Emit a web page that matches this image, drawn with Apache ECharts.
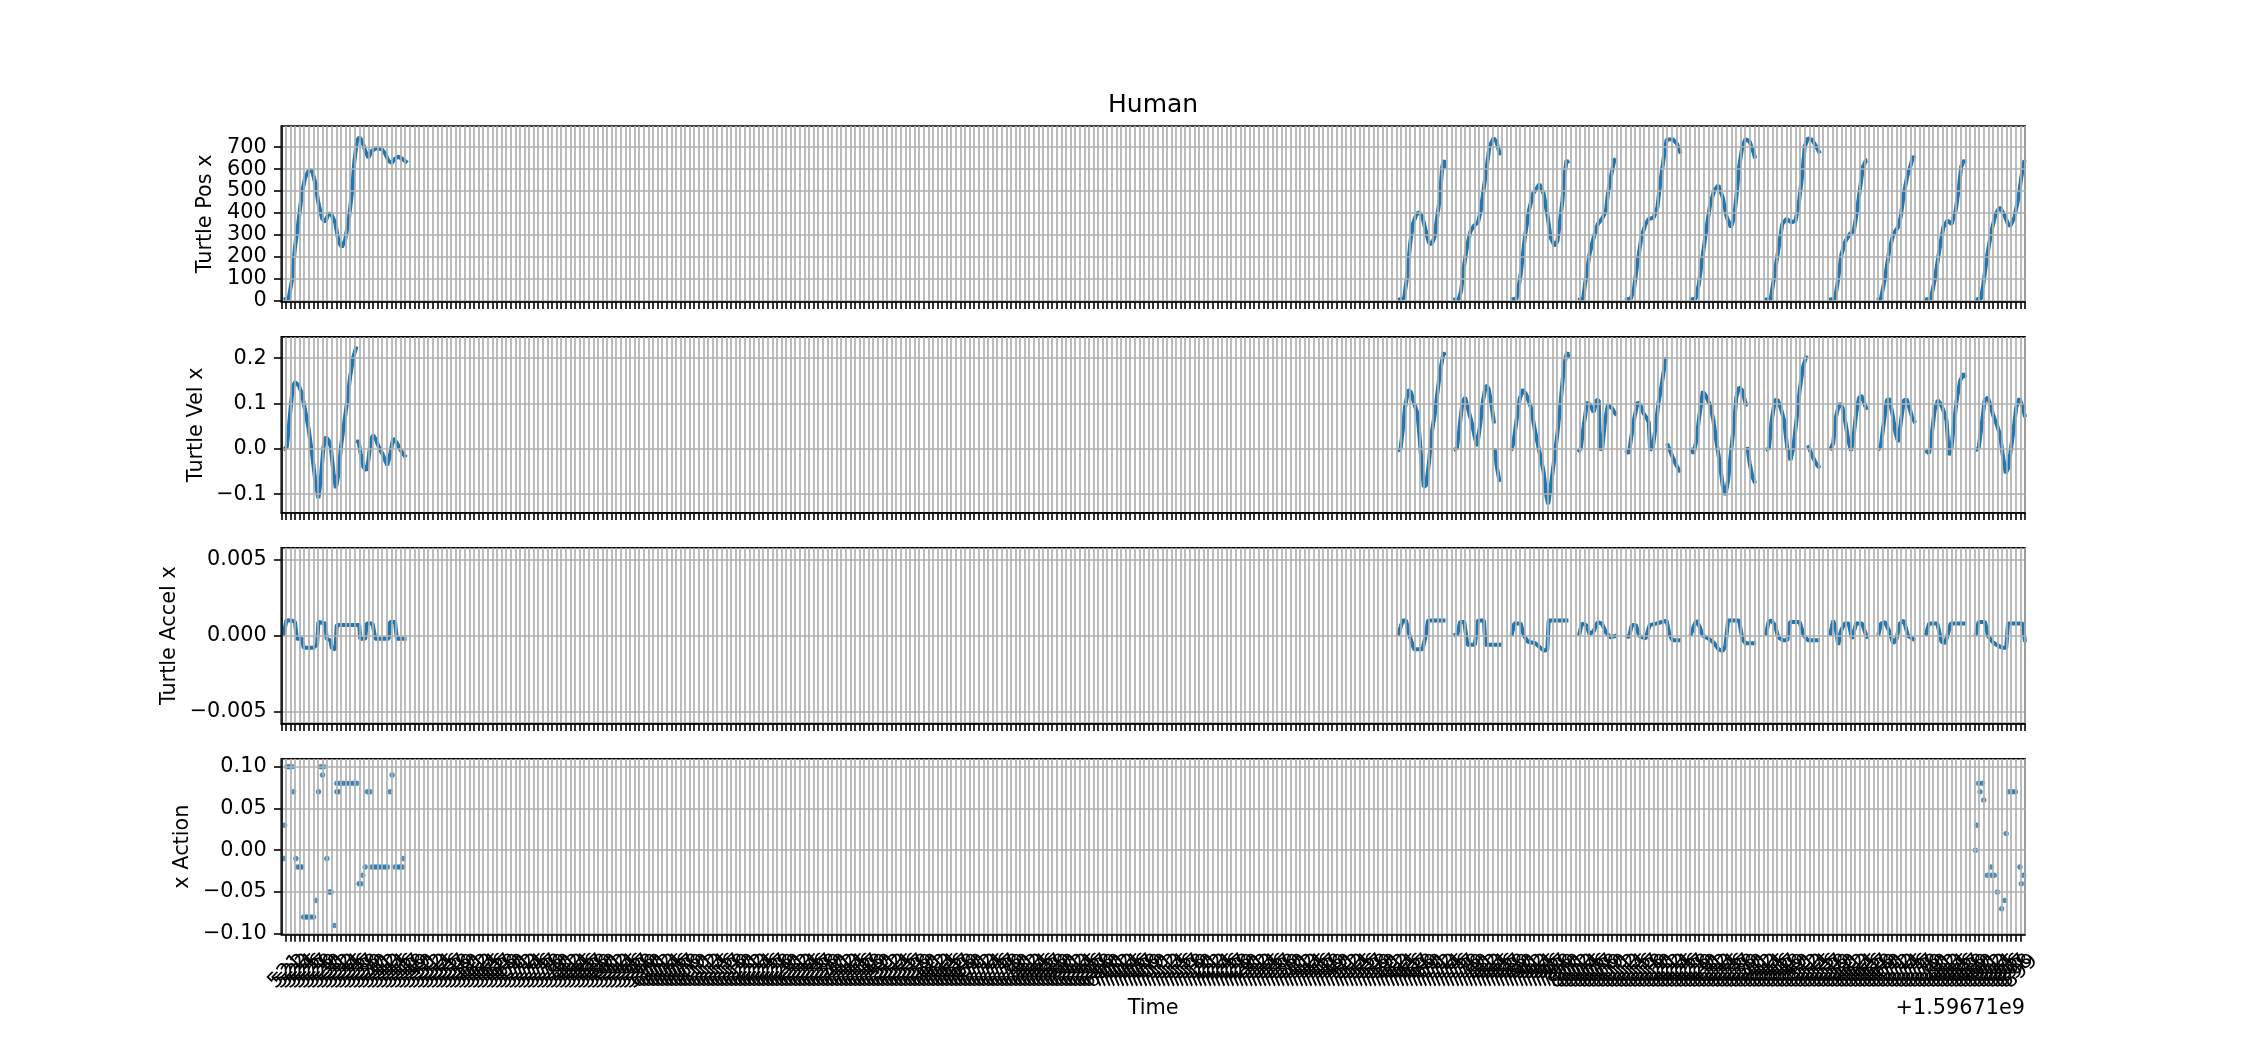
<!DOCTYPE html>
<html><head><meta charset="utf-8">
<script src="https://cdn.jsdelivr.net/npm/echarts@6/dist/echarts.min.js"></script>
<style>html,body{margin:0;padding:0;background:#fff}#c{width:2250px;height:1050px}</style>
</head><body><div id="c"></div>
<script>
// ---- axis / tick data ----
const T_START = 520;          // label of first x tick (time - 1.59671e9)
const X_SPAN = 380;           // number of tick steps on the time axis
const X_OFFSET_TEXT = '+1.59671e9';
const posTicks = [0, 100, 200, 300, 400, 500, 600, 700];
const velTicks = [-0.1, 0, 0.1, 0.2];
const accTicks = [-0.005, 0, 0.005];
const actTicks = [-0.10, -0.05, 0, 0.05, 0.10];
const panelNames = ['Turtle Pos x', 'Turtle Vel x', 'Turtle Accel x', 'x Action'];

// ---- series data: [time since T_START, value]; null = gap ----
const posPts = [
[0.5,5],[1.6,9],[2.3,89],[3.0,244],[3.8,367],[4.5,491],[5.2,560],[5.9,591],[6.7,595],[7.4,537],[8.1,444],[8.9,375],[9.6,359],[10.3,398],[11.0,390],[11.8,352],[12.5,267],[13.2,244],[13.9,275],[14.7,367],[15.4,491],[15.9,629],[16.5,730],[17.0,745],[17.6,730],[18.3,683],[19.0,652],[19.7,683],[20.8,696],[21.9,691],[22.6,673],[23.4,637],[24.1,629],[24.8,648],[25.5,657],[26.3,648],[27.0,637],[27.5,629],null,
[243.3,3],[244.7,11],[245.4,118],[246.0,257],[246.6,349],[247.4,395],[248.0,403],[248.7,380],[249.4,318],[250.1,265],[250.7,257],[251.3,288],[251.9,380],[252.5,472],[253.0,611],[253.4,641],[253.6,600],null,
[255.4,3],[256.6,6],[257.1,42],[257.8,165],[258.5,257],[259.2,318],[259.9,341],[260.8,357],[261.4,411],[261.9,488],[262.6,595],[263.3,703],[264.2,741],[264.8,726],[265.5,672],[265.7,664],null,
[267.8,3],[269.2,8],[270.1,118],[271.0,288],[271.9,411],[272.8,488],[274.2,531],[275.1,488],[276.0,380],[276.6,288],[277.5,249],[278.1,272],[278.5,334],[279.2,457],[279.6,564],[280.1,641],[280.5,626],null,
[282.6,3],[283.7,8],[284.1,72],[285.1,211],[286.0,288],[286.9,349],[287.8,372],[288.7,411],[289.1,488],[289.9,580],[290.5,641],[290.8,649],null,
[292.8,3],[294.1,8],[294.8,57],[295.5,165],[296.4,288],[297.3,349],[298.0,372],[299.1,380],[299.9,426],[300.5,534],[301.2,641],[301.9,734],[302.3,741],[303.2,737],[304.1,718],[304.8,680],[305.0,672],null,
[306.9,3],[308.2,8],[308.9,72],[309.6,180],[310.5,318],[311.4,441],[312.3,503],[313.2,526],[314.1,472],[315.0,380],[315.9,334],[316.6,380],[317.1,472],[317.7,611],[318.4,703],[319.1,737],[320.0,726],[320.9,672],[321.2,649],null,
[323.2,3],[324.6,8],[325.3,103],[326.2,226],[327.1,349],[328.0,372],[329.1,357],[330.0,365],[330.7,441],[331.4,564],[332.0,703],[332.7,741],[333.6,734],[334.5,703],[335.3,672],null,
[337.3,3],[338.6,8],[339.1,72],[340.0,211],[340.9,272],[341.8,303],[342.7,318],[343.4,411],[344.1,518],[344.7,611],[345.4,641],[345.6,641],null,
[347.7,3],[348.6,8],[349.5,103],[350.4,226],[351.3,303],[352.3,334],[352.9,380],[353.6,488],[354.3,564],[355.0,611],[355.6,657],[356.1,649],null,
[358.1,3],[359.5,8],[360.4,103],[361.3,226],[362.2,334],[363.1,365],[364.0,349],[364.9,411],[365.6,518],[366.1,611],[366.8,641],[367.0,626],null,
[369.0,3],[370.4,8],[370.9,72],[371.8,211],[372.7,318],[373.6,395],[374.5,426],[375.4,395],[376.3,349],[376.8,341],[377.7,380],[378.6,472],[379.2,564],[379.9,641]
];

const velPts = [
[0.5,-0.003],[1.2,0.004],[1.6,0.041],[2.0,0.085],[2.5,0.136],[3.0,0.147],[3.8,0.140],[4.5,0.122],[5.2,0.085],[5.9,0.048],[6.7,-0.010],[7.4,-0.069],[8.1,-0.109],[8.6,-0.069],[9.2,0.004],[9.7,0.026],[10.3,0.019],[10.8,0.004],[11.4,-0.054],[11.9,-0.087],[12.5,-0.054],[13.0,0.004],[13.6,0.048],[14.3,0.100],[15.0,0.158],[15.7,0.202],[16.4,0.226],null,
[16.5,0.012],[16.8,0.019],[17.3,-0.010],[17.9,-0.040],[18.5,-0.048],[19.0,-0.025],[19.5,0.019],[20.0,0.030],[20.6,0.021],[21.3,0.003],[22.1,-0.012],[22.6,-0.025],[23.1,-0.036],[23.7,-0.014],[24.4,0.023],[25.2,0.013],[25.9,-0.001],[26.6,-0.012],[27.2,-0.019],null,
[243.3,-0.004],[243.9,-0.001],[244.4,0.041],[244.9,0.092],[245.6,0.130],[246.2,0.125],[246.8,0.103],[247.6,0.078],[248.0,0.034],[248.5,-0.032],[249.0,-0.084],[249.5,-0.080],[250.1,-0.032],[250.7,0.034],[251.4,0.078],[252.1,0.136],[252.7,0.180],[253.3,0.213],[253.5,0.206],null,
[255.5,-0.003],[256.2,0.001],[256.7,0.041],[257.4,0.103],[258.0,0.113],[258.6,0.089],[259.4,0.059],[260.1,0.026],[260.6,0.006],[261.2,0.048],[261.9,0.107],[262.5,0.140],[263.1,0.133],[263.7,0.100],[264.3,0.056],null,
[264.4,0.001],[264.9,-0.040],[265.5,-0.073],null,
[268.0,-0.004],[268.5,0.012],[269.2,0.063],[269.9,0.111],[270.6,0.131],[271.4,0.118],[272.3,0.092],[273.2,0.041],[274.2,-0.007],[275.1,-0.051],[275.7,-0.105],[276.1,-0.122],[276.6,-0.087],[277.3,-0.032],[278.1,0.034],[278.7,0.092],[279.3,0.158],[279.9,0.202],[280.3,0.213],[280.5,0.199],null,
[282.6,-0.007],[283.2,0.001],[283.9,0.056],[284.6,0.103],[285.3,0.096],[286.0,0.081],[286.6,0.107],[287.1,0.107],[287.4,-0.003],[287.9,0.004],[288.5,0.063],[289.1,0.096],[289.9,0.091],[290.5,0.081],[291.0,0.074],null,
[293.0,-0.003],[293.7,-0.010],[294.2,0.026],[294.9,0.070],[295.6,0.103],[296.2,0.096],[296.9,0.078],[297.6,0.067],[298.0,0.059],[298.3,-0.003],[298.9,0.004],[299.5,0.048],[300.1,0.100],[300.8,0.140],[301.4,0.180],[301.9,0.202],null,
[302.0,0.012],[302.6,-0.003],[303.2,-0.018],[303.8,-0.032],[304.6,-0.047],[304.9,-0.051],null,
[307.1,0.001],[307.8,-0.010],[308.4,0.019],[309.0,0.070],[309.8,0.127],[310.5,0.116],[311.4,0.096],[312.1,0.063],[312.7,0.019],[313.5,-0.032],[314.1,-0.080],[314.7,-0.102],[315.3,-0.069],[315.9,-0.010],[316.6,0.056],[317.1,0.114],[317.7,0.136],[318.4,0.129],[319.1,0.100],[319.6,0.096],null,
[319.5,0.004],[320.0,-0.032],[320.6,-0.062],[321.2,-0.076],null,
[323.5,-0.003],[324.2,0.001],[324.8,0.063],[325.5,0.107],[326.1,0.108],[326.8,0.089],[327.5,0.063],[328.2,0.001],[328.9,-0.025],[329.5,0.001],[330.2,0.063],[330.9,0.129],[331.6,0.180],[332.4,0.206],null,
[332.7,0.008],[333.4,-0.010],[334.1,-0.025],[334.7,-0.036],[335.3,-0.043],null,
[337.5,-0.003],[338.2,0.012],[338.8,0.070],[339.5,0.100],[340.2,0.092],[340.9,0.056],[341.5,0.019],[342.1,-0.004],[342.6,0.023],[343.2,0.078],[343.8,0.111],[344.3,0.118],[345.0,0.100],[345.5,0.086],null,
[348.0,-0.003],[348.6,0.008],[349.3,0.063],[349.9,0.107],[350.4,0.111],[351.1,0.078],[351.8,0.034],[352.4,0.015],[353.0,0.063],[353.6,0.107],[354.2,0.109],[354.8,0.091],[355.4,0.070],[356.1,0.057],null,
[358.3,-0.003],[359.1,-0.010],[359.7,0.034],[360.3,0.085],[361.0,0.107],[361.6,0.100],[362.2,0.085],[362.9,0.063],[363.4,-0.014],[364.0,0.004],[364.6,0.063],[365.2,0.114],[365.9,0.151],[366.6,0.166],[367.0,0.157],null,
[369.2,-0.003],[369.9,0.001],[370.6,0.056],[371.2,0.107],[371.9,0.113],[372.5,0.094],[373.2,0.070],[373.9,0.052],[374.6,0.030],[375.1,-0.010],[375.8,-0.054],[376.3,-0.043],[376.8,-0.010],[377.5,0.041],[378.1,0.092],[378.8,0.111],[379.5,0.092],[380.0,0.070]
];

const accPts = [
[0.5,0],[0.7,0],[1.1,0.0010],[2.3,0.0010],[3.0,0.0009],[3.4,-0.0002],[4.5,-0.0002],[4.9,-0.0008],[7.0,-0.0008],[7.8,-0.0006],[8.1,0.0009],[9.6,0.0008],[9.9,-0.0002],[10.7,-0.0003],[11.0,-0.0008],[11.8,-0.0009],[12.1,0.0007],[17.0,0.0007],[17.2,-0.0002],[18.3,-0.0002],[18.6,0.0008],[19.9,0.0008],[20.5,-0.0002],[23.4,-0.0002],[23.7,0.0009],[24.8,0.0009],[25.2,-0.0002],[27.3,-0.0002],null,
[243.3,0],[243.7,0],[244.4,0.0010],[245.1,0.0010],[245.7,0.0002],[246.3,-0.0004],[246.9,-0.0009],[248.7,-0.0009],[249.4,0],[249.9,0.0010],[253.7,0.0010],null,
[255.5,0],[256.3,0.0001],[256.9,0.0009],[257.8,0.0009],[258.5,-0.0006],[260.1,-0.0006],[260.8,0.0010],[262.1,0.0010],[262.4,-0.0006],[266.0,-0.0006],null,
[268.1,0],[268.7,0.0008],[270.1,0.0008],[270.8,0],[271.7,-0.0004],[273.3,-0.0005],[274.4,-0.0008],[275.3,-0.0010],[275.9,-0.0009],[276.2,0.0010],[280.5,0.0010],null,
[282.8,0],[283.4,0.0008],[284.4,0.0007],[285.1,0.0001],[286.0,0.0003],[286.9,0.0009],[287.8,0.0008],[288.7,0.0002],[289.6,-0.0001],[291.0,0],null,
[293.0,0],[293.7,-0.0001],[294.3,0.0007],[295.2,0.0007],[295.9,0],[297.3,-0.0002],[298.2,0.0007],[299.6,0.0008],[300.9,0.0009],[301.9,0.0010],[302.5,0.0001],[303.2,-0.0003],[305.0,-0.0003],null,
[307.1,0],[307.8,0.0006],[308.4,0.0010],[309.1,0.0006],[309.8,0],[311.1,-0.0002],[312.3,-0.0005],[313.2,-0.0009],[314.1,-0.0010],[314.7,-0.0007],[315.3,0.0010],[317.7,0.0010],[318.4,-0.0002],[319.1,-0.0005],[321.4,-0.0005],null,
[323.5,0],[324.1,0.0009],[324.7,0.0010],[325.5,0.0007],[326.2,-0.0001],[327.3,-0.0003],[328.2,-0.0003],[328.8,0.0009],[330.9,0.0009],[331.8,0],[332.7,-0.0003],[335.3,-0.0003],null,
[337.5,0],[338.2,0.0010],[338.8,0.0004],[339.3,-0.0006],[340.0,0.0004],[340.7,0.0008],[341.6,0.0008],[342.3,-0.0002],[343.2,0.0008],[344.5,0.0008],[345.3,0.0001],[345.6,-0.0002],null,
[348.0,0],[348.6,0.0008],[349.5,0.0009],[350.4,0.0003],[351.3,-0.0005],[352.0,-0.0002],[352.7,0.0008],[353.6,0.0010],[354.5,0],[356.1,-0.0003],null,
[358.3,0],[359.1,0.0008],[360.9,0.0008],[361.8,-0.0004],[362.5,-0.0005],[363.1,0],[363.8,0.0008],[367.0,0.0008],null,
[369.2,0],[369.9,0.0009],[371.3,0.0009],[371.9,0],[372.9,-0.0004],[373.8,-0.0006],[375.0,-0.0008],[375.9,-0.0008],[376.3,0.0008],[379.5,0.0008],[380.0,-0.0004]
];

const actPts = [
[0.51,-0.01],[0.73,0.03],[1.23,0.10],[1.81,0.10],[2.32,0.10],[2.68,0.07],[3.19,-0.01],[3.55,-0.02],[4.13,-0.02],[4.50,-0.02],[4.86,-0.08],[5.22,-0.08],[5.73,-0.08],[6.31,-0.08],[7.04,-0.08],[7.54,-0.06],[8.12,0.07],[8.63,0.10],[9.00,0.09],[9.21,0.10],[9.94,-0.01],[10.52,-0.05],[10.88,-0.05],[11.53,-0.09],[12.11,0.07],[12.11,0.08],[12.48,0.07],[12.84,0.08],[13.57,0.08],[14.29,0.08],[15.02,0.08],[15.74,0.08],[16.47,0.08],[16.97,-0.04],[17.34,-0.04],[17.77,-0.03],[18.28,-0.02],[18.79,0.07],[19.37,0.07],[19.74,-0.02],[20.24,-0.02],[20.82,-0.02],[21.40,-0.02],[21.98,-0.02],[22.63,-0.02],[23.14,-0.02],[23.72,0.07],[24.16,0.09],[24.81,-0.02],[25.32,-0.02],[25.90,-0.02],[26.41,-0.02],[26.62,-0.01],
[369.2,0.00],[369.5,0.03],[369.9,0.08],[370.2,0.07],[370.7,0.08],[371.0,0.06],[371.8,-0.03],[372.5,-0.02],[372.7,-0.03],[373.3,-0.03],[374.0,-0.05],[374.9,-0.07],[375.5,-0.06],[375.9,0.02],[376.5,0.07],[377.2,0.07],[377.9,0.07],[378.9,-0.02],[379.2,-0.04],[379.7,-0.03]
];

// ---- layout / style ----
const FONT = 'DejaVu Sans';
const FS = 20.8;
const BLUE = '#1f77b4';
const GRID_LEFT = 281.25, GRID_RIGHT = 2025;
const H = 175.8;
const tops = [126, 336.9, 547.8, 758.7];
const yRanges = [[-6, 797], [-0.141, 0.247], [-0.0058, 0.0058], [-0.1008, 0.1095]];
const yTicks = [posTicks, velTicks, accTicks, actTicks];
const minus = s => s.replace('-', '\u2212');
const yFmt = [
  v => String(Math.round(v)),
  v => minus(v.toFixed(1)),
  v => minus(v.toFixed(3)),
  v => minus(v.toFixed(2))
];
const yLabelX = [206, 196.5, 169.5, 182.5];

function toData(pts) {
  const out = [];
  pts.forEach((p, i) => {
    if (p) out.push(p);
    else out.push([pts[i - 1][0] + 0.01, '-']);
  });
  return out;
}

const grids = tops.map(t => ({
  left: GRID_LEFT, width: GRID_RIGHT - GRID_LEFT, top: t, height: H,
  show: true, borderColor: '#000', borderWidth: 1.6, backgroundColor: 'rgba(0,0,0,0)'
}));

const xAxes = tops.map((t, i) => ({
  type: 'value', gridIndex: i, min: 0, max: X_SPAN, interval: 1, z: 5,
  axisLine: { show: true, onZero: false, lineStyle: { color: '#000', width: 1.6 } },
  axisTick: { show: true, length: 7.3, lineStyle: { color: '#000', width: 1.6 } },
  axisLabel: {
    show: i === 3, rotate: 45, interval: 0, hideOverlap: false,
    align: 'center', verticalAlign: 'middle', margin: 37,
    fontSize: FS, fontFamily: FONT, color: '#000',
    formatter: v => String(T_START + Math.round(v))
  },
  splitLine: { show: true, lineStyle: { color: '#b0b0b0', width: 1.7 } }
}));

const yAxes = tops.map((t, i) => ({
  type: 'value', gridIndex: i, min: yRanges[i][0], max: yRanges[i][1], z: 5,
  axisLine: { show: true, onZero: false, lineStyle: { color: '#000', width: 1.6 } },
  axisTick: { show: true, length: 7.3, customValues: yTicks[i], lineStyle: { color: '#000', width: 1.6 } },
  axisLabel: {
    show: true, customValues: yTicks[i], margin: 14.6,
    fontSize: FS, fontFamily: FONT, color: '#000', formatter: yFmt[i]
  },
  splitLine: { show: true, lineStyle: { color: '#b0b0b0', width: 1.7 } }
}));

const lineSeries = (pts, idx) => ({
  type: 'line', xAxisIndex: idx, yAxisIndex: idx, data: toData(pts),
  symbol: 'none', showSymbol: false, connectNulls: false, z: 2,
  lineStyle: { color: BLUE, width: 4 }, animation: false
});

const txt = (text, x, y, opts) => Object.assign({
  type: 'text', x, y, z: 100,
  style: Object.assign({
    text, fill: '#000', font: FS + 'px "' + FONT + '"',
    align: 'center', verticalAlign: 'middle', textAlign: 'center', textVerticalAlign: 'middle'
  }, (opts && opts.style) || {})
}, (opts && opts.el) || {});

const graphics = [
  txt('Human', (GRID_LEFT + GRID_RIGHT) / 2, 105, { style: { font: '25px "' + FONT + '"' } }),
  txt('Time', (GRID_LEFT + GRID_RIGHT) / 2, 1009),
  txt(X_OFFSET_TEXT, GRID_RIGHT, 1009, { style: { align: 'right', textAlign: 'right' } })
].concat(panelNames.map((n, i) => txt(n, yLabelX[i], tops[i] + H / 2, { el: { rotation: Math.PI / 2 } })));

const chart = echarts.init(document.getElementById('c'), null, { renderer: 'canvas' });
chart.setOption({
  animation: false,
  backgroundColor: '#fff',
  grid: grids,
  xAxis: xAxes,
  yAxis: yAxes,
  series: [
    lineSeries(posPts, 0),
    lineSeries(velPts, 1),
    lineSeries(accPts, 2),
    {
      type: 'scatter', xAxisIndex: 3, yAxisIndex: 3, data: actPts, symbolSize: 5, z: 2,
      itemStyle: { color: BLUE, borderColor: 'rgba(31,119,180,0.45)', borderWidth: 1 }, animation: false
    }
  ],
  graphic: graphics
});
</script></body></html>
